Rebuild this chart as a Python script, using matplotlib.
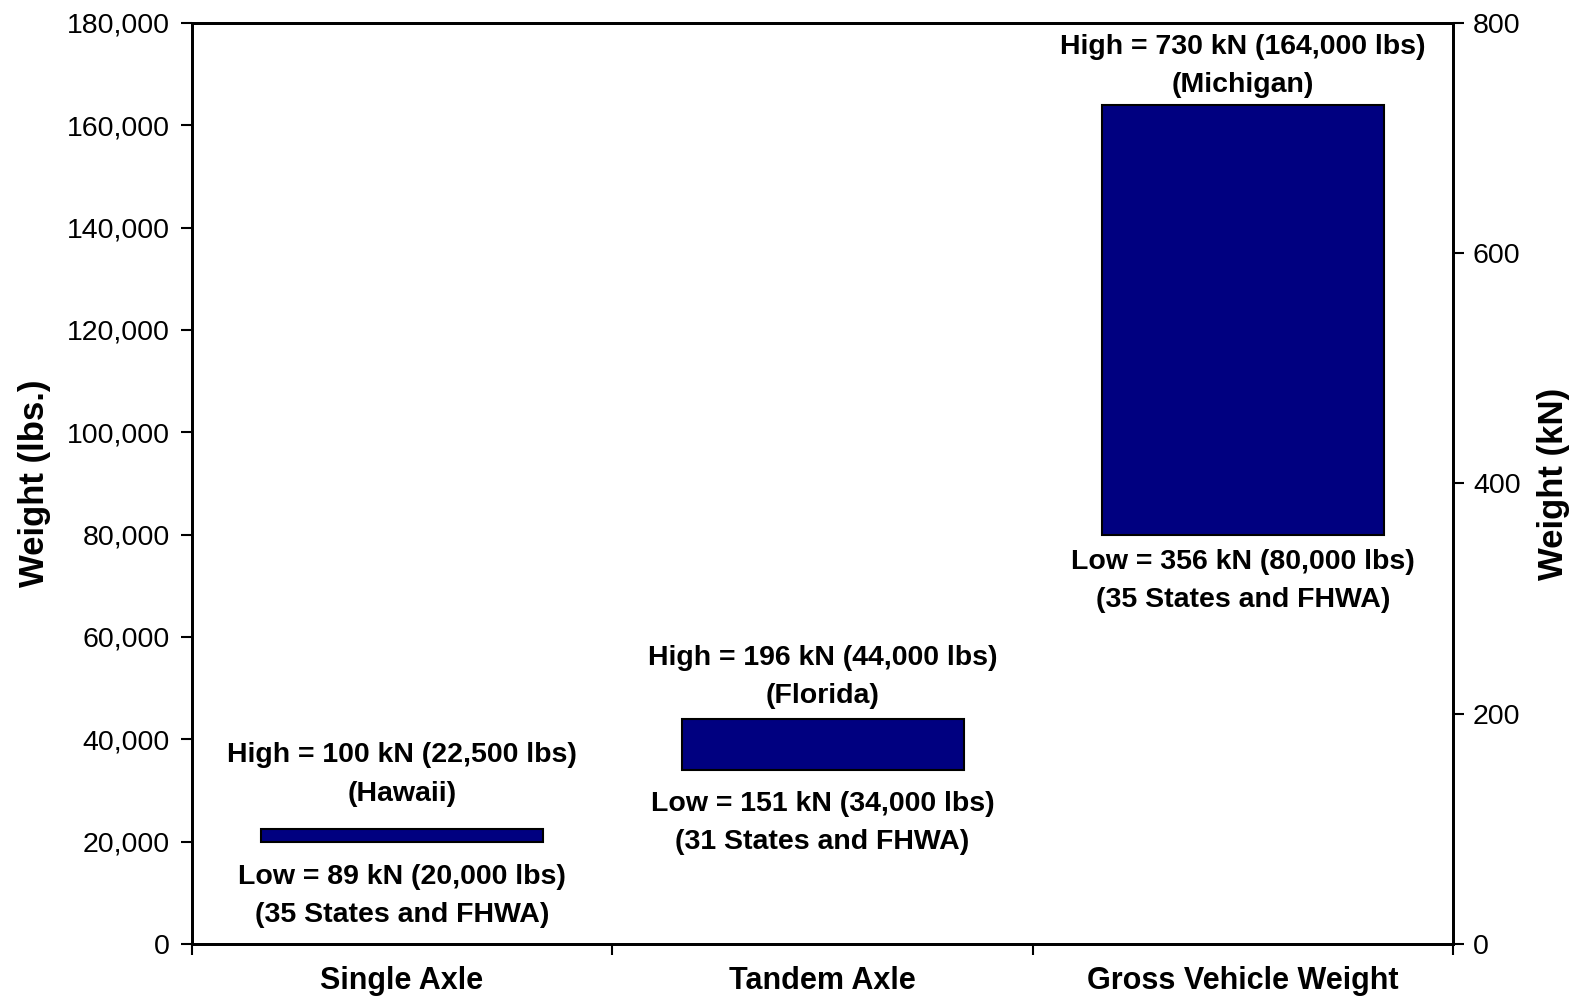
import matplotlib.pyplot as plt

categories = ["Single Axle", "Tandem Axle", "Gross Vehicle Weight"]
low_lbs = [20000, 34000, 80000]
high_lbs = [22500, 44000, 164000]
high_labels = [
    "High = 100 kN (22,500 lbs)\n(Hawaii)",
    "High = 196 kN (44,000 lbs)\n(Florida)",
    "High = 730 kN (164,000 lbs)\n(Michigan)",
]
low_labels = [
    "Low = 89 kN (20,000 lbs)\n(35 States and FHWA)",
    "Low = 151 kN (34,000 lbs)\n(31 States and FHWA)",
    "Low = 356 kN (80,000 lbs)\n(35 States and FHWA)",
]
lbs_ticks = list(range(0, 180001, 20000))
kn_ticks = [0, 200, 400, 600, 800]

# label gaps from the bar ends, in points
high_gap = [16, 7, 5]
low_gap = [16, 15, 10]

font = "Liberation Sans"

fig = plt.figure(figsize=(15.85, 10), dpi=100)
ax = fig.add_axes([0.121, 0.056, 0.796, 0.921])

x = range(len(categories))
heights = [h - l for h, l in zip(high_lbs, low_lbs)]
ax.bar(x, heights, bottom=low_lbs, width=0.67, color="#000080",
       edgecolor="black", linewidth=1.5)

for i in x:
    ax.annotate(high_labels[i], (i, high_lbs[i]), xytext=(0, high_gap[i]),
                textcoords="offset points", ha="center", va="bottom",
                fontsize=20.5, fontweight="bold", family=font, linespacing=1.62)
    ax.annotate(low_labels[i], (i, low_lbs[i]), xytext=(0, -low_gap[i]),
                textcoords="offset points", ha="center", va="top",
                fontsize=20.5, fontweight="bold", family=font, linespacing=1.62)

ax.set_xlim(-0.5, 2.5)
ax.set_ylim(0, 180000)
ax.set_yticks(lbs_ticks)
ax.set_yticklabels([f"{v:,}" for v in lbs_ticks], fontsize=20.5, family=font)
ax.set_xticks(list(x))
ax.set_xticklabels(categories, fontsize=22, fontweight="bold", family=font)
ax.set_xticks([-0.5, 0.5, 1.5, 2.5], minor=True)
ax.tick_params(axis="x", which="major", length=0, pad=16)
ax.tick_params(axis="x", which="minor", length=8, width=1.5, direction="out")
ax.tick_params(axis="y", length=8, width=1.5, direction="out", pad=8)
ax.set_ylabel("Weight (lbs.)", fontsize=25, fontweight="bold", family=font, labelpad=11)

ax2 = ax.twinx()
ax2.set_ylim(0, 800)
ax2.set_yticks(kn_ticks)
ax2.set_yticklabels([str(v) for v in kn_ticks], fontsize=20.5, family=font)
ax2.tick_params(axis="y", length=8, width=1.5, direction="out", pad=6)
ax2.set_ylabel("Weight (kN)", fontsize=25, fontweight="bold", family=font,
               rotation=90, labelpad=12)

for a in (ax, ax2):
    for s in a.spines.values():
        s.set_linewidth(2)

fig.savefig("out.png", dpi=100)
